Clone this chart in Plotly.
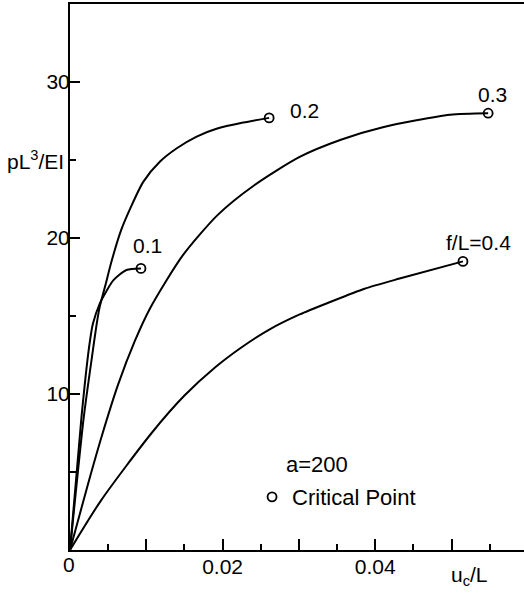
import plotly.graph_objects as go

# f/L = 0.1
x01 = [0, 0.0015, 0.0025, 0.0030, 0.0039, 0.0046, 0.0057, 0.0074, 0.0093]
y01 = [0, 8.5, 13.0, 14.5, 15.8, 16.45, 17.3, 17.95, 18.05]
# f/L = 0.2
x02 = [0, 0.0018, 0.0030, 0.0035, 0.0039, 0.0046, 0.0055, 0.0067, 0.0079, 0.0096, 0.0118, 0.0140, 0.0166, 0.0192, 0.0227, 0.0261]
y02 = [0, 8.5, 12.8, 14.5, 15.6, 16.9, 18.6, 20.5, 21.9, 23.6, 24.9, 25.75, 26.5, 27.0, 27.4, 27.7]
# f/L = 0.3
x03 = [0, 0.0024, 0.0041, 0.0063, 0.0085, 0.0105, 0.0148, 0.0194, 0.0242, 0.0301, 0.0355, 0.0410, 0.0498, 0.0548]
y03 = [0, 4.3, 7.2, 10.6, 13.4, 15.5, 18.9, 21.5, 23.4, 25.2, 26.3, 27.1, 27.9, 28.0]
# f/L = 0.4
x04 = [0, 0.0041, 0.0107, 0.0150, 0.0190, 0.0225, 0.0260, 0.0301, 0.0341, 0.0386, 0.0432, 0.0515]
y04 = [0, 3.2, 7.5, 9.9, 11.7, 13.0, 14.1, 15.1, 15.9, 16.75, 17.4, 18.5]

series = [(x01, y01), (x02, y02), (x03, y03), (x04, y04)]
curve_labels = ["0.1", "0.2", "0.3", "f/L=0.4"]

x_tickvals = [0, 0.01, 0.02, 0.03, 0.04, 0.05]
x_ticktext = ["", "", "0.02", "", "0.04", ""]
y_tickvals = [0, 10, 20, 30]
y_ticktext = ["", "10", "20", "30"]

FONT = "Liberation Sans, Arial, sans-serif"
fig = go.Figure()
for xs, ys in series:
    fig.add_trace(go.Scatter(x=xs, y=ys, mode="lines",
                             line=dict(color="black", width=2, shape="spline", smoothing=0.7),
                             showlegend=False, hoverinfo="skip"))
fig.add_trace(go.Scatter(x=[s[0][-1] for s in series], y=[s[1][-1] for s in series],
                         mode="markers", name="Critical Point",
                         marker=dict(symbol="circle-open", size=9, color="black", line=dict(width=1.8)),
                         showlegend=True))

label_pos = [(0.0101, 19.55), (0.0307, 28.2), (0.0554, 29.2), (0.0535, 19.7)]
for (lx, ly), t in zip(label_pos, curve_labels):
    fig.add_annotation(x=lx, y=ly, text=t, showarrow=False, font=dict(size=21, color="black", family=FONT))
fig.add_annotation(x=0.0324, y=5.45, text="a=200", showarrow=False,
                   font=dict(size=22, color="black", family=FONT))
fig.add_annotation(xref="paper", yref="paper", x=-0.0198, y=-0.027, yanchor="middle", text="0",
                   showarrow=False, font=dict(size=21, color="black", family=FONT))
fig.add_annotation(xref="paper", yref="paper", x=0.925, y=-0.048, yanchor="middle",
                   text="u<sub>c</sub>/L", showarrow=False, font=dict(size=21, color="black", family=FONT))
fig.add_annotation(xref="paper", yref="paper", x=-0.077, y=0.714, xanchor="center", yanchor="middle",
                   text="pL<sup>3</sup>/EI", showarrow=False, font=dict(size=21, color="black", family=FONT))

fig.update_layout(
    width=524, height=594,
    margin=dict(l=70, r=0, t=4, b=44),
    paper_bgcolor="white", plot_bgcolor="white",
    font=dict(family=FONT, size=21, color="black"),
    legend=dict(x=0.401, y=0.097, xanchor="left", yanchor="middle", bgcolor="rgba(0,0,0,0)",
                font=dict(size=22, family=FONT), itemwidth=30),
    xaxis=dict(range=[0, 0.0595], showgrid=False, zeroline=False, showline=True, linecolor="black",
               linewidth=2, mirror=True, ticks="inside", ticklen=11, tickwidth=1.5, tickcolor="black",
               tickvals=x_tickvals, ticktext=x_ticktext, ticklabelstandoff=-3,
               minor=dict(dtick=0.005, ticks="inside", ticklen=6, tickwidth=1.5, tickcolor="black")),
    yaxis=dict(range=[0, 35], showgrid=False, zeroline=False, showline=True, linecolor="black",
               linewidth=2, ticks="inside", ticklen=10, tickwidth=1.5, tickcolor="black",
               tickvals=y_tickvals, ticktext=y_ticktext, ticklabelstandoff=-6,
               minor=dict(dtick=5, ticks="inside", ticklen=6, tickwidth=1.5, tickcolor="black")),
)
fig.write_html("out.html", config={"displayModeBar": False},
               post_script="document.body.style.margin='0';document.body.style.overflow='hidden';")
